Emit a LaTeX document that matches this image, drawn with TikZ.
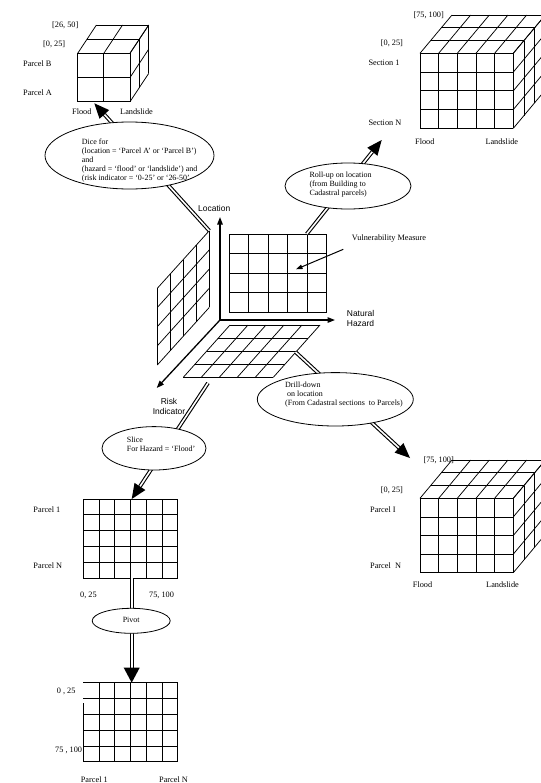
\documentclass[tikz,border=0pt]{standalone}
\usepackage{fontspec}
\setmainfont{Liberation Serif}
\newfontfamily\sansf{Liberation Sans}
\usetikzlibrary{calc,arrows.meta,shapes.geometric}
\tikzset{
  lbl/.style={font=\fontsize{8.3}{9.2}\selectfont, inner sep=0pt, anchor=west},
  etext/.style={font=\fontsize{8}{9.2}\selectfont, inner sep=0pt, anchor=west, align=left},
  sanslbl/.style={font=\sansf\fontsize{8.5}{10}\selectfont, inner sep=0pt},
  gridline/.style={line width=0.75bp},
  oval/.style={draw, ellipse, line width=0.8bp, fill=white, inner sep=0pt},
  fatshaft/.style={double, double distance=1.6bp, line width=1.1bp},
  axisline/.style={line width=1.3bp, -{Triangle[length=7.5bp,width=5.5bp]}},
  thinarrow/.style={line width=1bp, -{Triangle[length=6.5bp,width=4.5bp]}},
}
% #1 half width of head, #2 start, #3 tip
\newcommand\fatarrow[3]{%
  \coordinate (fab) at ($(#3)!15bp!(#2)$);
  \draw[fatshaft] (#2) -- (fab);
  \fill (#3) -- ($(fab)!#1!90:(#3)$) -- ($(fab)!#1!-90:(#3)$) -- cycle;
}
% x0 y0 w h ncols nrows dx dy ndepth
\newcommand\olapcube[9]{%
  \foreach \i in {0,...,#5} {
    \draw[gridline] ({#1+\i*#3/#5},#2) -- ++(0,#4);
    \draw[gridline] ({#1+\i*#3/#5},#2) -- ++(#7,#8);
  }
  \foreach \j in {0,...,#6} {
    \draw[gridline] (#1,{#2+\j*#4/#6}) -- ++(#3,0);
    \draw[gridline] ({#1+#3},{#2+\j*#4/#6}) -- ++(#7,#8);
  }
  \foreach \k in {1,...,#9} {
    \draw[gridline] ({#1+\k*#7/#9},{#2+\k*#8/#9}) -- ++(#3,0);
    \draw[gridline] ({#1+#3+\k*#7/#9},{#2+\k*#8/#9}) -- ++(0,#4);
  }
}
\begin{document}
\begin{tikzpicture}[x=1bp,y=-1bp]
\fill[white] (0,0) rectangle (541,783);
\useasboundingbox (0,0) rectangle (541,783);

% ---------- cubes ----------
\olapcube{77.7}{53.3}{52.3}{48.4}{2}{2}{18.7}{-28.3}{2}
\olapcube{420}{53.3}{93.3}{75}{5}{4}{32}{-38.3}{3}
\olapcube{420}{498.3}{93.3}{74.4}{5}{4}{32}{-38.3}{3}

% top-left cube labels
\node[lbl] (tl26) at (52,25) {[26, 50]};
\node[lbl] (tl0) at (43,44) {[0, 25]};
\node[lbl] (tlpb) at (23,64) {Parcel B};
\node[lbl] (tlpa) at (23,93) {Parcel A};
\node[lbl] (tlfl) at (72,112) {Flood};
\node[lbl] (tlls) at (120,112) {Landslide};

% top-right cube labels
\node[lbl] (tr75) at (413.3,15) {[75, 100]};
\node[lbl] (tr0) at (380.7,43.3) {[0, 25]};
\node[lbl] (trs1) at (368.3,63.3) {Section 1};
\node[lbl] (trsn) at (368.3,122.7) {Section N};
\node[lbl] (trfl) at (415,141.7) {Flood};
\node[lbl] (trls) at (485.3,141.7) {Landslide};

% bottom-right cube labels
\node[lbl] (br75) at (423.3,460) {[75, 100]};
\node[lbl] (br0) at (380.7,490) {[0, 25]};
\node[lbl] (brp1) at (370,509.3) {Parcel I};
\node[lbl] (brpn) at (370,565.7) {Parcel\ \ N};
\node[lbl] (brfl) at (412.7,584.3) {Flood};
\node[lbl] (brls) at (486,584.3) {Landslide};

% ---------- central cube ----------
% back grid (vulnerability)
\foreach \i in {0,...,5} \draw[gridline] ({229+\i*19.54},234) -- ++(0,78.3);
\foreach \j in {0,...,4} \draw[gridline] (229,{234+\j*19.575}) -- ++(97.7,0);
% left grid
\foreach \i in {0,...,4} \draw[gridline] ({157.3+\i*13},{288.3-\i*14.4}) -- ++(0,76.7);
\foreach \j in {0,...,4} \draw[gridline] (157.3,{288.3+\j*19.175}) -- ++(52,-57.6);
% floor grid
\foreach \i in {0,...,5} \draw[gridline] ({230+\i*18},325) -- ++(-46.7,52.3);
\foreach \j in {0,...,4} \draw[gridline] ({230-\j*11.675},{325+\j*13.075}) -- ++(90,0);

% axes
\coordinate (origin) at (220,320);
\coordinate (loctip) at (220,217);
\coordinate (haztip) at (335,320);
\coordinate (risktip) at (156.7,388);
\draw[axisline] (origin) -- (loctip);
\draw[axisline] (origin) -- (haztip);
\draw[axisline] (origin) -- (risktip);
\node[sanslbl, anchor=west] (loclbl) at (198,208) {Location};
\node[sanslbl, anchor=west, align=left] (hazlbl) at (346.7,318.2) {Natural\\Hazard};
\node[sanslbl, align=center] (risklbl) at (169,406) {Risk\\Indicator};

% vulnerability measure
\node[lbl] (vmlbl) at (351.7,238.3) {Vulnerability Measure};
\coordinate (vmfrom) at (343.3,249.3);
\coordinate (vmto) at (296,269.3);
\draw[thinarrow] (vmfrom) -- (vmto);

% ---------- slice grid ----------
\foreach \i in {0,...,6} \draw[gridline] ({83.3+\i*15.733},499) -- (83.3+\i*15.733,578.3);
\foreach \j in {0,...,5} \draw[gridline] (83.3,{499+\j*15.86}) -- ++(94.4,0);
\node[lbl] (slp1) at (33.3,509.3) {Parcel 1};
\node[lbl] (slpn) at (33.3,565.7) {Parcel N};
\node[lbl] (sl0) at (80,595) {0, 25};
\node[lbl] (sl75) at (149,595) {75, 100};

% ---------- pivot grid ----------
\foreach \i in {1,...,6} \draw[gridline] ({83.3+\i*15.733},682.7) -- (83.3+\i*15.733,761.7);
\draw[gridline] (83.3,703.3) -- (83.3,761.7);
\foreach \j in {0,...,5} \draw[gridline] (83.3,{682.7+\j*15.8}) -- ++(94.4,0);
\node[lbl] (pv0) at (56.7,691.7) {0 , 25};
\node[lbl] (pv75) at (55,750) {75 , 100};
\node[lbl] (pvp1) at (80.7,779.3) {Parcel 1};
\node[lbl] (pvpn) at (159,779.3) {Parcel N};

% ---------- fat arrows ----------
\coordinate (dicefrom) at (209.3,230.7);
\coordinate (diceto) at (94.3,103.3);
\coordinate (rollfrom) at (306.7,234);
\coordinate (rollto) at (381.7,140);
\coordinate (drillfrom) at (295.5,352);
\coordinate (drillto) at (410,458);
\coordinate (slicefrom) at (208,383);
\coordinate (sliceto) at (131.7,499);
\coordinate (pivotfrom) at (131.7,578.3);
\coordinate (pivotto) at (131.7,682.7);
\fatarrow{6.5bp}{dicefrom}{diceto}
\fatarrow{6.5bp}{rollfrom}{rollto}
\fatarrow{6.5bp}{drillfrom}{drillto}
\fatarrow{6.5bp}{slicefrom}{sliceto}
\fatarrow{8bp}{pivotfrom}{pivotto}

% ---------- ellipses ----------
\node[oval, minimum width=169bp, minimum height=67bp] (dice) at (129.5,155.5) {};
\node[etext] (dicetxt) at (81.7,160.7) {Dice for\\(location = `Parcel A' or `Parcel B')\\and\\(hazard = `flood' or `landslide') and\\(risk indicator = `0-25' or `26-50'};
\node[oval, minimum width=126bp, minimum height=46bp] (roll) at (348,186) {};
\node[etext] (rolltxt) at (309.3,184.6) {Roll-up on location\\(from Building to\\Cadastral parcels)};
\node[oval, minimum width=156bp, minimum height=53.4bp] (drill) at (335.3,399.3) {};
\node[etext] (drilltxt) at (285,394.5) {Drill-down\\\hspace*{2bp}on location\\(From Cadastral sections \ to Parcels)};
\node[oval, minimum width=104bp, minimum height=43.4bp] (slice) at (154,448.3) {};
\node[etext] (slicetxt) at (126.7,444.5) {Slice\\For Hazard = `Flood'};
\node[oval, minimum width=78bp, minimum height=25bp] (pivot) at (131.2,620.8) {};
\node[etext, anchor=center] (pivottxt) at (131.2,619.5) {Pivot};
\end{tikzpicture}
\end{document}
